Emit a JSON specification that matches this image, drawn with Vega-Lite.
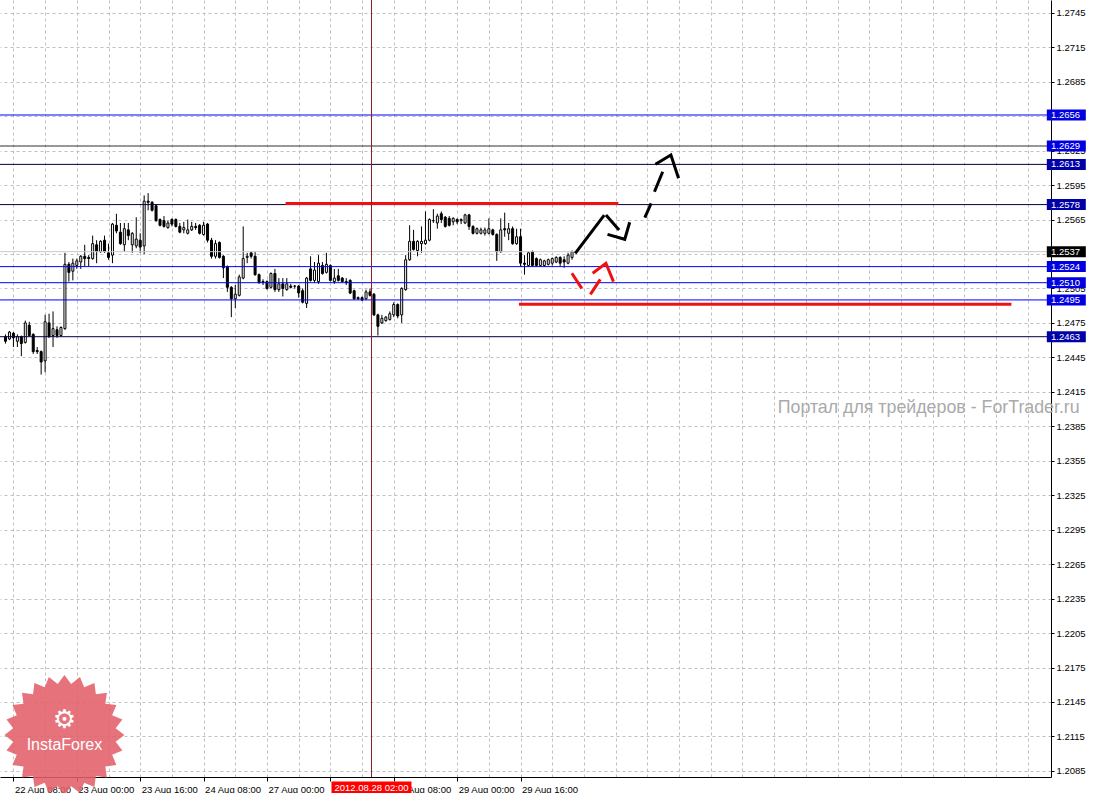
{
"$schema": "https://vega.github.io/schema/vega-lite/v6.json",
"width": 1051, "height": 777,
"autosize": {"type": "none"},
"padding": {"left": 0, "top": 0, "right": 42, "bottom": 16},
"background": "white",
"config": {"view": {"stroke": null}, "font": "Liberation Sans",
  "axis": {"labelFont": "Liberation Sans", "labelFontSize": 9.5, "labelColor": "#000000", "domainColor": "#000000", "tickColor": "#000000", "gridColor": "#c0c0c0", "gridDash": [3, 3], "gridWidth": 1}},
"datasets": {
"candles": [
{"i":-2,"o":1.2463,"h":1.2465,"l":1.2457,"c":1.2459},
{"i":-1,"o":1.2461,"h":1.2468,"l":1.2460,"c":1.2467},
{"i":0,"o":1.2466,"h":1.2467,"l":1.2454,"c":1.2462},
{"i":1,"o":1.2459,"h":1.2465,"l":1.2454,"c":1.2463},
{"i":2,"o":1.2463,"h":1.2464,"l":1.2446,"c":1.2457},
{"i":3,"o":1.2458,"h":1.2477,"l":1.2457,"c":1.2475},
{"i":4,"o":1.2473,"h":1.2476,"l":1.2463,"c":1.2464},
{"i":5,"o":1.2465,"h":1.2466,"l":1.2448,"c":1.2450},
{"i":6,"o":1.2451,"h":1.2454,"l":1.2448,"c":1.2450},
{"i":7,"o":1.2450,"h":1.2451,"l":1.2430,"c":1.2441},
{"i":8,"o":1.2442,"h":1.2482,"l":1.2432,"c":1.2476},
{"i":9,"o":1.2475,"h":1.2483,"l":1.2462,"c":1.2463},
{"i":10,"o":1.2464,"h":1.2485,"l":1.2454,"c":1.2470},
{"i":11,"o":1.2469,"h":1.2472,"l":1.2462,"c":1.2464},
{"i":12,"o":1.2464,"h":1.2472,"l":1.2463,"c":1.2471},
{"i":13,"o":1.2470,"h":1.2536,"l":1.2469,"c":1.2526},
{"i":14,"o":1.2526,"h":1.2528,"l":1.2511,"c":1.2519},
{"i":15,"o":1.2520,"h":1.2531,"l":1.2512,"c":1.2527},
{"i":16,"o":1.2525,"h":1.2531,"l":1.2522,"c":1.2529},
{"i":17,"o":1.2528,"h":1.2534,"l":1.2522,"c":1.2533},
{"i":18,"o":1.2533,"h":1.2543,"l":1.2524,"c":1.2531},
{"i":19,"o":1.2532,"h":1.2534,"l":1.2524,"c":1.2531},
{"i":20,"o":1.2531,"h":1.2551,"l":1.2530,"c":1.2544},
{"i":21,"o":1.2543,"h":1.2547,"l":1.2527,"c":1.2537},
{"i":22,"o":1.2537,"h":1.2547,"l":1.2536,"c":1.2546},
{"i":23,"o":1.2547,"h":1.2551,"l":1.2536,"c":1.2537},
{"i":24,"o":1.2536,"h":1.2544,"l":1.2530,"c":1.2532},
{"i":25,"o":1.2534,"h":1.2562,"l":1.2527,"c":1.2561},
{"i":26,"o":1.2560,"h":1.2570,"l":1.2553,"c":1.2555},
{"i":27,"o":1.2554,"h":1.2562,"l":1.2543,"c":1.2544},
{"i":28,"o":1.2543,"h":1.2562,"l":1.2537,"c":1.2557},
{"i":29,"o":1.2556,"h":1.2562,"l":1.2547,"c":1.2551},
{"i":30,"o":1.2543,"h":1.2554,"l":1.2536,"c":1.2553},
{"i":31,"o":1.2542,"h":1.2567,"l":1.2540,"c":1.2548},
{"i":32,"o":1.2547,"h":1.2553,"l":1.2536,"c":1.2541},
{"i":33,"o":1.2542,"h":1.2586,"l":1.2535,"c":1.2581},
{"i":34,"o":1.2581,"h":1.2588,"l":1.2573,"c":1.2580},
{"i":35,"o":1.2580,"h":1.2581,"l":1.2572,"c":1.2573},
{"i":36,"o":1.2577,"h":1.2578,"l":1.2563,"c":1.2564},
{"i":37,"o":1.2565,"h":1.2566,"l":1.2559,"c":1.2560},
{"i":38,"o":1.2564,"h":1.2568,"l":1.2558,"c":1.2559},
{"i":39,"o":1.2558,"h":1.2564,"l":1.2557,"c":1.2562},
{"i":40,"o":1.2565,"h":1.2566,"l":1.2559,"c":1.2561},
{"i":41,"o":1.2565,"h":1.2566,"l":1.2558,"c":1.2559},
{"i":42,"o":1.2559,"h":1.2562,"l":1.2553,"c":1.2554},
{"i":43,"o":1.2556,"h":1.2563,"l":1.2553,"c":1.2558},
{"i":44,"o":1.2553,"h":1.2565,"l":1.2552,"c":1.2556},
{"i":45,"o":1.2556,"h":1.2563,"l":1.2555,"c":1.2559},
{"i":46,"o":1.2559,"h":1.2562,"l":1.2556,"c":1.2558},
{"i":47,"o":1.2560,"h":1.2561,"l":1.2552,"c":1.2553},
{"i":48,"o":1.2552,"h":1.2563,"l":1.2551,"c":1.2560},
{"i":49,"o":1.2561,"h":1.2562,"l":1.2545,"c":1.2547},
{"i":50,"o":1.2547,"h":1.2549,"l":1.2531,"c":1.2533},
{"i":51,"o":1.2533,"h":1.2547,"l":1.2531,"c":1.2544},
{"i":52,"o":1.2545,"h":1.2546,"l":1.2531,"c":1.2532},
{"i":53,"o":1.2533,"h":1.2534,"l":1.2514,"c":1.2523},
{"i":54,"o":1.2524,"h":1.2525,"l":1.2502,"c":1.2506},
{"i":55,"o":1.2506,"h":1.2507,"l":1.2480,"c":1.2496},
{"i":56,"o":1.2496,"h":1.2508,"l":1.2488,"c":1.2500},
{"i":57,"o":1.2499,"h":1.2517,"l":1.2498,"c":1.2515},
{"i":58,"o":1.2514,"h":1.2559,"l":1.2513,"c":1.2531},
{"i":59,"o":1.2532,"h":1.2536,"l":1.2527,"c":1.2533},
{"i":60,"o":1.2536,"h":1.2537,"l":1.2531,"c":1.2533},
{"i":61,"o":1.2533,"h":1.2537,"l":1.2516,"c":1.2517},
{"i":62,"o":1.2517,"h":1.2518,"l":1.2509,"c":1.2510},
{"i":63,"o":1.2511,"h":1.2513,"l":1.2508,"c":1.2510},
{"i":64,"o":1.2511,"h":1.2512,"l":1.2504,"c":1.2505},
{"i":65,"o":1.2506,"h":1.2519,"l":1.2505,"c":1.2518},
{"i":66,"o":1.2518,"h":1.2522,"l":1.2502,"c":1.2504},
{"i":67,"o":1.2504,"h":1.2514,"l":1.2502,"c":1.2509},
{"i":68,"o":1.2509,"h":1.2514,"l":1.2498,"c":1.2505},
{"i":69,"o":1.2504,"h":1.2514,"l":1.2503,"c":1.2509},
{"i":70,"o":1.2507,"h":1.2509,"l":1.2505,"c":1.2506},
{"i":71,"o":1.2507,"h":1.2508,"l":1.2505,"c":1.2507},
{"i":72,"o":1.2507,"h":1.2508,"l":1.2497,"c":1.2501},
{"i":73,"o":1.2503,"h":1.2505,"l":1.2492,"c":1.2493},
{"i":74,"o":1.2492,"h":1.2515,"l":1.2488,"c":1.2514},
{"i":75,"o":1.2522,"h":1.2533,"l":1.2511,"c":1.2512},
{"i":76,"o":1.2512,"h":1.2528,"l":1.2510,"c":1.2521},
{"i":77,"o":1.2511,"h":1.2534,"l":1.2509,"c":1.2527},
{"i":78,"o":1.2525,"h":1.2528,"l":1.2517,"c":1.2518},
{"i":79,"o":1.2519,"h":1.2536,"l":1.2518,"c":1.2526},
{"i":80,"o":1.2525,"h":1.2526,"l":1.2511,"c":1.2512},
{"i":81,"o":1.2511,"h":1.2522,"l":1.2509,"c":1.2514},
{"i":82,"o":1.2516,"h":1.2522,"l":1.2511,"c":1.2512},
{"i":83,"o":1.2514,"h":1.2515,"l":1.2510,"c":1.2511},
{"i":84,"o":1.2511,"h":1.2514,"l":1.2508,"c":1.2510},
{"i":85,"o":1.2512,"h":1.2513,"l":1.2500,"c":1.2501},
{"i":86,"o":1.2503,"h":1.2504,"l":1.2495,"c":1.2496},
{"i":87,"o":1.2497,"h":1.2498,"l":1.2495,"c":1.2496},
{"i":88,"o":1.2497,"h":1.2498,"l":1.2494,"c":1.2495},
{"i":89,"o":1.2496,"h":1.2504,"l":1.2495,"c":1.2502},
{"i":90,"o":1.2502,"h":1.2505,"l":1.2498,"c":1.2499},
{"i":91,"o":1.2500,"h":1.2501,"l":1.2481,"c":1.2482},
{"i":92,"o":1.2482,"h":1.2483,"l":1.2464,"c":1.2472},
{"i":93,"o":1.2475,"h":1.2482,"l":1.2474,"c":1.2479},
{"i":94,"o":1.2477,"h":1.2481,"l":1.2476,"c":1.2480},
{"i":95,"o":1.2478,"h":1.2485,"l":1.2477,"c":1.2483},
{"i":96,"o":1.2482,"h":1.2493,"l":1.2480,"c":1.2491},
{"i":97,"o":1.2491,"h":1.2492,"l":1.2479,"c":1.2481},
{"i":98,"o":1.2482,"h":1.2506,"l":1.2475,"c":1.2505},
{"i":99,"o":1.2504,"h":1.2534,"l":1.2503,"c":1.2530},
{"i":100,"o":1.2530,"h":1.2560,"l":1.2529,"c":1.2546},
{"i":101,"o":1.2546,"h":1.2556,"l":1.2538,"c":1.2539},
{"i":102,"o":1.2538,"h":1.2547,"l":1.2533,"c":1.2546},
{"i":103,"o":1.2544,"h":1.2559,"l":1.2536,"c":1.2546},
{"i":104,"o":1.2544,"h":1.2572,"l":1.2543,"c":1.2547},
{"i":105,"o":1.2547,"h":1.2566,"l":1.2546,"c":1.2565},
{"i":106,"o":1.2564,"h":1.2574,"l":1.2562,"c":1.2564},
{"i":107,"o":1.2562,"h":1.2570,"l":1.2557,"c":1.2568},
{"i":108,"o":1.2570,"h":1.2572,"l":1.2562,"c":1.2565},
{"i":109,"o":1.2567,"h":1.2568,"l":1.2558,"c":1.2559},
{"i":110,"o":1.2566,"h":1.2568,"l":1.2559,"c":1.2560},
{"i":111,"o":1.2563,"h":1.2567,"l":1.2560,"c":1.2566},
{"i":112,"o":1.2565,"h":1.2566,"l":1.2561,"c":1.2563},
{"i":113,"o":1.2564,"h":1.2566,"l":1.2561,"c":1.2565},
{"i":114,"o":1.2562,"h":1.2570,"l":1.2561,"c":1.2569},
{"i":115,"o":1.2569,"h":1.2570,"l":1.2556,"c":1.2559},
{"i":116,"o":1.2559,"h":1.2560,"l":1.2552,"c":1.2553},
{"i":117,"o":1.2553,"h":1.2558,"l":1.2552,"c":1.2557},
{"i":118,"o":1.2553,"h":1.2558,"l":1.2552,"c":1.2556},
{"i":119,"o":1.2553,"h":1.2558,"l":1.2551,"c":1.2556},
{"i":120,"o":1.2553,"h":1.2566,"l":1.2552,"c":1.2557},
{"i":121,"o":1.2556,"h":1.2557,"l":1.2551,"c":1.2552},
{"i":122,"o":1.2552,"h":1.2553,"l":1.2529,"c":1.2537},
{"i":123,"o":1.2537,"h":1.2566,"l":1.2536,"c":1.2556},
{"i":124,"o":1.2557,"h":1.2571,"l":1.2550,"c":1.2556},
{"i":125,"o":1.2553,"h":1.2562,"l":1.2547,"c":1.2557},
{"i":126,"o":1.2557,"h":1.2559,"l":1.2543,"c":1.2544},
{"i":127,"o":1.2544,"h":1.2557,"l":1.2543,"c":1.2550},
{"i":128,"o":1.2550,"h":1.2557,"l":1.2524,"c":1.2527},
{"i":129,"o":1.2527,"h":1.2534,"l":1.2517,"c":1.2526},
{"i":130,"o":1.2525,"h":1.2537,"l":1.2524,"c":1.2536},
{"i":131,"o":1.2537,"h":1.2538,"l":1.2524,"c":1.2525},
{"i":132,"o":1.2531,"h":1.2532,"l":1.2524,"c":1.2525},
{"i":133,"o":1.2525,"h":1.2531,"l":1.2524,"c":1.2530},
{"i":134,"o":1.2525,"h":1.2530,"l":1.2524,"c":1.2529},
{"i":135,"o":1.2526,"h":1.2531,"l":1.2525,"c":1.2530},
{"i":136,"o":1.2527,"h":1.2532,"l":1.2525,"c":1.2531},
{"i":137,"o":1.2528,"h":1.2533,"l":1.2527,"c":1.2532},
{"i":138,"o":1.2532,"h":1.2533,"l":1.2524,"c":1.2527},
{"i":139,"o":1.2530,"h":1.2533,"l":1.2523,"c":1.2528},
{"i":140,"o":1.2527,"h":1.2536,"l":1.2526,"c":1.2534},
{"i":141,"o":1.2532,"h":1.2538,"l":1.2530,"c":1.2537}
],
"levels": [
{"p":1.2656,"kind":"intraday"},
{"p":1.2629,"kind":"upper"},
{"p":1.2613,"kind":"key"},
{"p":1.2578,"kind":"key"},
{"p":1.2537,"kind":"bid"},
{"p":1.2524,"kind":"intraday"},
{"p":1.2510,"kind":"intraday"},
{"p":1.2495,"kind":"intraday"},
{"p":1.2463,"kind":"key"}
],
"zones": [
{"p":1.25789,"from":68.7,"to":152.7},
{"p":1.24913,"from":127.6,"to":251.9}
],
"arrows": [
{"seg":"b1","path":"main","k":0,"i":141.8,"p":1.25356},{"seg":"b1","path":"main","k":1,"i":149.125,"p":1.25689},
{"seg":"b2","path":"main","k":0,"i":149.55,"p":1.25689},{"seg":"b2","path":"main","k":1,"i":152.875,"p":1.25559},
{"seg":"b3","path":"main","k":0,"i":149.95,"p":1.25521},{"seg":"b3","path":"main","k":1,"i":154.3,"p":1.25478},{"seg":"b3","path":"main","k":2,"i":155.55,"p":1.25626},
{"seg":"b4","path":"main","k":0,"i":159.375,"p":1.25666},{"seg":"b4","path":"main","k":1,"i":160.95,"p":1.25791},
{"seg":"b5","path":"main","k":0,"i":161.8,"p":1.25892},{"seg":"b5","path":"main","k":1,"i":163.875,"p":1.26066},
{"seg":"b6","path":"main","k":0,"i":162.05,"p":1.26131},{"seg":"b6","path":"main","k":1,"i":165.95,"p":1.26212},{"seg":"b6","path":"main","k":2,"i":167.875,"p":1.26009},
{"seg":"r1","path":"alt","k":0,"i":140.95,"p":1.25182},{"seg":"r1","path":"alt","k":1,"i":143.45,"p":1.25051},
{"seg":"r2","path":"alt","k":0,"i":145.625,"p":1.24999},{"seg":"r2","path":"alt","k":1,"i":148.125,"p":1.25129},
{"seg":"r3","path":"alt","k":0,"i":146.2,"p":1.25182},{"seg":"r3","path":"alt","k":1,"i":149.55,"p":1.25269},{"seg":"r3","path":"alt","k":2,"i":151.45,"p":1.25109}
]
},
"layer": [
{"data": {"name": "candles"},
 "mark": {"type": "rule", "color": "#000000", "strokeWidth": 1},
 "encoding": {
  "x": {"field": "i", "type": "quantitative", "title": null,
    "scale": {"domain": [-2.125, 260.625], "nice": false, "zero": false},
    "axis": {"orient": "bottom", "title": null, "tickCount": 200, "values": [0,8,16,24,32,40,48,56,64,72,80,88,96,104,112,120,128,136,144,152,160,168,176,184,192,200,208,216,224,232,240,248,256],
      "grid": true, "tickSize": 4,
      "tickOpacity": {"condition": {"test": "datum.value % 16 === 0 && datum.value <= 128", "value": 1}, "value": 0},
      "labelExpr": "datum.value===0?'22 Aug 08:00':datum.value===16?'23 Aug 00:00':datum.value===32?'23 Aug 16:00':datum.value===48?'24 Aug 08:00':datum.value===64?'27 Aug 00:00':datum.value===96?'28 Aug 08:00':datum.value===112?'29 Aug 00:00':datum.value===128?'29 Aug 16:00':''",
      "labelAlign": "left", "labelBaseline": "top", "labelPadding": 3, "labelOffset": 1,
      "labelOverlap": false, "labelFlush": false, "labelBound": false}},
  "y": {"field": "l", "type": "quantitative", "title": null,
    "scale": {"domain": [1.20797, 1.27561], "nice": false, "zero": false},
    "axis": {"orient": "right", "title": null, "tickCount": 200, "values": [1.2085,1.2115,1.2145,1.2175,1.2205,1.2235,1.2265,1.2295,1.2325,1.2355,1.2385,1.2415,1.2445,1.2475,1.2505,1.2535,1.2565,1.2595,1.2625,1.2655,1.2685,1.2715,1.2745],
      "format": ".4f", "grid": true, "tickSize": 3, "labelPadding": 2, "labelAlign": "left", "labelBaseline": "middle",
      "labelOverlap": false, "labelFlush": false, "labelBound": false}},
  "y2": {"field": "h"}
 }},
{"data": {"name": "candles"},
 "mark": {"type": "bar", "size": 2, "stroke": "#000000", "strokeWidth": 1},
 "encoding": {
  "x": {"field": "i", "type": "quantitative", "title": null},
  "y": {"field": "o", "type": "quantitative", "title": null},
  "y2": {"field": "c"},
  "fill": {"condition": {"test": "datum.c > datum.o", "value": "#ffffff"}, "value": "#000000"}
 }},
{"data": {"name": "levels"},
 "mark": {"type": "rule", "strokeWidth": 1},
 "encoding": {
  "y": {"field": "p", "type": "quantitative", "title": null},
  "color": {"field": "kind", "type": "nominal", "legend": null, "scale": {"domain": ["intraday", "upper", "key", "bid"], "range": ["#0000ff", "#303030", "#000040", "#c8c8c8"]}}
 }},
{"data": {"name": "zones"},
 "mark": {"type": "rule", "strokeWidth": 3, "color": "#ee1111"},
 "encoding": {
  "x": {"field": "from", "type": "quantitative", "title": null},
  "x2": {"field": "to"},
  "y": {"field": "p", "type": "quantitative", "title": null}
 }},
{"data": {"name": "arrows"},
 "mark": {"type": "line", "strokeWidth": 3, "strokeCap": "butt"},
 "encoding": {
  "x": {"field": "i", "type": "quantitative", "title": null},
  "y": {"field": "p", "type": "quantitative", "title": null},
  "detail": {"field": "seg"},
  "order": {"field": "k"},
  "stroke": {"field": "path", "type": "nominal", "legend": null, "scale": {"domain": ["main", "alt"], "range": ["#000000", "#ee1111"]}}
 }},
{"data": {"values": [{"t": "2012.08.28 02:00"}]},
 "mark": {"type": "rule", "color": "#802020", "strokeWidth": 1},
 "encoding": {"x": {"datum": 90.375, "type": "quantitative"}}},
{"data": {"name": "levels"},
 "mark": {"type": "point", "shape": "M-1,-0.282L1,-0.282L1,0.282L-1,0.282Z", "size": 1521, "filled": true, "opacity": 1, "strokeWidth": 0},
 "encoding": {
  "x": {"datum": 265.75, "type": "quantitative"},
  "y": {"field": "p", "type": "quantitative", "title": null},
  "fill": {"field": "kind", "type": "nominal", "legend": null, "scale": {"domain": ["intraday", "upper", "key", "bid"], "range": ["#0000e0", "#0000e0", "#0000a8", "#000000"]}}
 }},
{"data": {"name": "levels"},
 "mark": {"type": "text", "align": "left", "baseline": "middle", "dx": 5, "fontSize": 9.5, "color": "#ffffff"},
 "encoding": {
  "x": {"datum": 260.625, "type": "quantitative"},
  "y": {"field": "p", "type": "quantitative", "title": null},
  "text": {"field": "p", "type": "quantitative", "format": ".4f"}
 }},
{"data": {"values": [{"t": "2012.08.28 02:00"}]},
 "layer": [
  {"mark": {"type": "point", "shape": "M-1,-0.15L1,-0.15L1,0.15L-1,0.15Z", "size": 6400, "filled": true, "opacity": 1, "strokeWidth": 0, "color": "#ff0000"},
   "encoding": {"x": {"datum": 90.375, "type": "quantitative"}, "y": {"datum": 1.20705, "type": "quantitative"}}},
  {"mark": {"type": "text", "align": "center", "baseline": "middle", "fontSize": 9.5, "color": "#ffffff"},
   "encoding": {"x": {"datum": 90.375, "type": "quantitative"}, "y": {"datum": 1.20705, "type": "quantitative"}, "text": {"field": "t"}}}
 ]},
{"data": {"values": [{"t": "Портал для трейдеров - ForTrader.ru"}]},
 "mark": {"type": "text", "align": "right", "baseline": "middle", "fontSize": 17.8, "color": "#aaaaaa"},
 "encoding": {"x": {"datum": 269.125, "type": "quantitative"}, "y": {"datum": 1.24009, "type": "quantitative"}, "text": {"field": "t"}}},
{"data": {"values": [{"t": "InstaForex"}]},
 "layer": [
  {"mark": {"type": "point", "shape": "M1,0L0.853,0.112L0.966,0.259L0.795,0.329L0.866,0.5L0.682,0.524L0.707,0.707L0.524,0.682L0.5,0.866L0.329,0.795L0.259,0.966L0.112,0.853L0,1L-0.112,0.853L-0.259,0.966L-0.329,0.795L-0.5,0.866L-0.524,0.682L-0.707,0.707L-0.682,0.524L-0.866,0.5L-0.795,0.329L-0.966,0.259L-0.853,0.112L-1,0L-0.853,-0.112L-0.966,-0.259L-0.795,-0.329L-0.866,-0.5L-0.682,-0.524L-0.707,-0.707L-0.524,-0.682L-0.5,-0.866L-0.329,-0.795L-0.259,-0.966L-0.112,-0.853L0,-1L0.112,-0.853L0.259,-0.966L0.329,-0.795L0.5,-0.866L0.524,-0.682L0.707,-0.707L0.682,-0.524L0.866,-0.5L0.795,-0.329L0.966,-0.259L0.853,-0.112Z", "size": 14400, "filled": true, "opacity": 0.88, "strokeWidth": 0, "color": "#e2606a"},
   "encoding": {"x": {"datum": 12.875, "type": "quantitative"}, "y": {"datum": 1.21162, "type": "quantitative"}}},
  {"mark": {"type": "text", "align": "center", "baseline": "middle", "fontSize": 16, "color": "#ffffff", "font": "Liberation Sans"},
   "encoding": {"x": {"datum": 12.875, "type": "quantitative"}, "y": {"datum": 1.21075, "type": "quantitative"}, "text": {"field": "t"}}},
  {"mark": {"type": "text", "align": "center", "baseline": "middle", "fontSize": 26, "color": "#ffffff", "font": "DejaVu Sans", "text": "⚙"},
   "encoding": {"x": {"datum": 12.875, "type": "quantitative"}, "y": {"datum": 1.21293, "type": "quantitative"}}}
 ]}
]
}
